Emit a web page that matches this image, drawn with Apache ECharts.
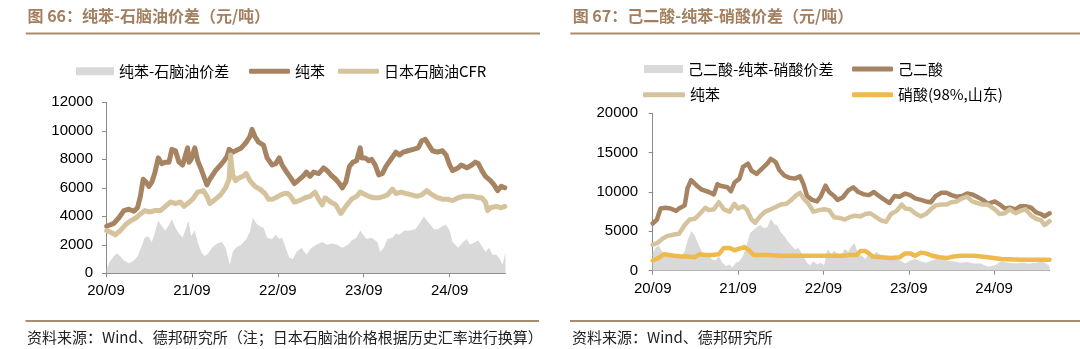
<!DOCTYPE html>
<html>
<head>
<meta charset="utf-8">
<script src="https://cdn.jsdelivr.net/npm/echarts@6/dist/echarts.min.js"></script>
<style>
html,body{margin:0;padding:0;background:#fff;}
#chart{width:1080px;height:349px;}
</style>
</head>
<body>
<div id="chart"></div>
<script>
// ---- x positions are months since 2020-09 ----
const xTickMonths = [0, 12, 24, 36, 48];
const xTickLabels = ['20/09', '21/09', '22/09', '23/09', '24/09'];
const leftYTicks = [0, 2000, 4000, 6000, 8000, 10000, 12000];
const rightYTicks = [0, 5000, 10000, 15000, 20000];

// Left chart: 纯苯-石脑油价差
const leftSpreadM = [0.1,0.5,1.1,1.5,2.0,2.5,3.2,3.9,4.4,4.9,5.4,5.9,6.4,6.8,7.3,7.8,8.3,8.8,9.2,9.7,10.2,10.7,11.2,11.5,11.9,12.4,12.8,13.3,13.8,14.3,14.8,15.5,16.2,16.7,17.3,17.7,18.1,18.9,19.6,20.1,20.5,21.0,21.5,22.0,22.5,23.2,23.7,24.2,24.6,25.1,25.6,26.1,26.6,27.3,28.0,28.7,29.4,30.2,30.9,31.6,32.3,33.0,33.8,34.3,35.0,35.5,35.9,36.4,37.1,37.9,38.3,38.8,39.3,40.0,40.5,41.0,41.7,42.4,43.2,43.9,44.4,44.8,45.3,45.8,46.3,47.0,47.5,48.0,48.4,49.2,49.9,50.4,50.8,51.6,52.0,52.5,53.0,53.5,54.0,54.5,54.9,55.4,55.8];
const leftSpreadV = [300,800,1200,1400,1200,900,700,900,1200,1800,2500,2600,2200,2800,3700,3300,3000,3400,3800,3200,2800,2500,3200,3700,2600,3000,2200,1500,1200,1400,1800,2100,2200,1800,600,1500,1800,2000,2400,2900,3900,3500,3300,3200,2500,2400,2700,2400,2500,1800,1100,1000,1500,1800,1300,1800,2000,2200,2000,2100,2000,1800,2000,2300,2500,3000,2700,2400,2500,2200,1500,1800,2400,2500,2800,2700,3000,3000,3100,3600,4000,3700,3400,3100,3100,3300,3400,3000,2200,1800,2200,2400,2000,2200,2300,1900,1500,1800,1300,1300,1100,600,1500];

const leftBenzeneM = [0.1,1.1,1.8,2.5,3.2,3.9,4.4,4.8,5.2,5.6,6.0,6.4,6.8,7.3,7.8,8.3,8.8,9.2,9.7,10.2,10.7,11.4,11.6,11.9,12.4,12.8,13.3,13.8,14.1,14.5,15.3,16.0,16.5,16.9,17.2,17.7,18.1,18.9,19.6,20.1,20.4,20.8,21.3,22.0,22.5,23.2,23.7,24.2,24.6,25.1,25.8,26.3,26.8,27.5,28.0,28.5,29.0,29.7,30.4,30.9,31.4,32.1,32.6,33.0,33.5,34.0,34.5,35.0,35.5,35.7,36.2,36.7,37.1,37.6,38.1,38.6,39.1,39.8,40.5,41.0,41.5,42.2,42.9,43.6,44.1,44.6,45.1,45.6,46.3,47.0,47.5,48.0,48.4,49.2,49.6,50.4,51.1,51.6,52.0,52.5,53.0,53.7,54.2,54.7,55.2,55.7];
const leftBenzeneV = [3300,3500,3900,4400,4500,4350,4600,5400,6600,6400,6100,6400,7000,8100,7700,7800,7800,8700,8600,7800,7600,8800,7800,8000,8800,7900,7300,6600,6200,6600,7200,7600,7900,8200,8700,8500,8600,8800,9200,9600,10100,9600,9200,9000,8100,7600,7700,8100,7600,7200,6700,6300,6500,6800,7100,6800,7100,7000,7400,7200,6900,6600,6300,6000,6400,7500,7800,7900,8800,8100,8100,7900,8000,7600,6900,7000,7500,8000,8500,8300,8500,8600,8700,8800,9300,9400,9000,8600,8500,8600,8300,7600,7200,7400,7600,7400,7600,7800,7700,7200,6800,6500,6200,5800,6100,6000];

const leftNaphthaM = [0.1,0.6,1.3,2.0,2.7,3.5,4.2,4.9,5.4,6.1,6.8,7.6,8.3,9.0,9.7,10.4,10.9,11.4,12.1,12.8,13.6,14.1,14.5,15.3,16.0,16.7,17.2,17.4,17.7,18.1,18.6,19.1,19.6,20.1,20.8,21.5,22.2,22.7,23.2,23.7,24.4,24.9,25.4,25.8,26.3,27.0,27.8,28.5,29.2,29.7,30.2,30.6,31.4,32.1,32.8,33.5,34.3,35.0,35.5,35.9,36.7,37.4,38.1,38.8,39.3,40.0,40.5,41.2,41.9,42.7,43.4,44.1,44.8,45.6,46.3,47.0,47.7,48.4,49.2,49.9,50.6,51.3,52.0,52.5,53.0,53.3,53.7,54.5,55.2,55.7];
const leftNaphthaV = [3000,2900,2700,3000,3400,3700,3900,4200,4400,4300,4400,4400,4700,5000,4900,5000,4700,4900,5200,5700,5800,5400,4900,5200,5500,6000,6600,8300,6900,6500,6700,6800,7000,6500,6100,5900,5600,5200,5200,5300,5500,5600,5600,5400,5000,5100,5300,5400,5700,5200,4800,5300,5000,4800,4200,4700,5200,5400,5700,5600,5400,5300,5300,5400,5500,5900,5600,5700,5600,5500,5400,5500,5800,5500,5300,5200,5200,5100,5300,5400,5400,5400,5300,5300,5000,4400,4600,4700,4600,4700];

// Right chart: 己二酸-纯苯-硝酸价差
const rightSpreadM = [0,0.3,0.8,1.3,1.8,2.5,3.3,4.0,4.5,4.9,5.4,5.9,6.4,6.9,7.4,7.9,8.3,8.8,9.3,9.8,10.3,10.8,11.2,11.7,12.2,12.7,13.2,13.7,14.2,14.6,15.1,15.6,16.1,16.6,17.1,17.5,18.0,18.5,19.0,19.5,20.0,20.5,20.9,21.7,22.1,22.6,23.1,23.6,24.1,24.6,25.1,25.5,26.0,26.5,27.0,27.5,28.0,28.4,28.9,29.4,29.9,30.4,30.9,31.4,32.1,32.8,33.5,34.3,35.0,35.5,36.2,36.9,37.7,38.4,39.3,40.3,41.3,42.3,43.2,44.2,45.2,46.1,47.1,48.1,49.0,50.0,51.0,51.9,52.9,53.9,54.8,55.8];
const rightSpreadV = [2200,2800,3200,2500,2000,1800,1600,1800,2500,3800,5000,4500,3400,2400,1700,2000,1500,1300,1800,1000,600,800,400,1000,1200,1900,3200,4800,5200,5500,5800,5400,5500,6600,5900,5800,4900,4400,3700,3200,2700,2900,2300,1000,700,1200,800,1000,700,2800,2100,2500,2200,2000,2800,2400,3200,3500,2100,1900,1500,2200,1700,2400,2000,1800,1800,1500,1200,900,1300,1500,1200,1000,1300,1600,1300,1200,1000,1100,900,900,500,700,1200,1000,900,1000,900,1000,1200,600];

const rightAdipicM = [0,0.6,1.1,1.8,2.5,3.3,3.7,4.5,4.9,5.4,6.2,6.9,7.9,8.6,9.1,9.5,10.5,11.0,11.5,12.2,12.7,13.4,13.9,14.6,15.4,16.1,16.6,17.3,17.8,18.5,19.2,20.0,20.7,21.2,21.7,22.4,23.1,23.6,24.3,24.8,25.5,26.0,26.7,27.5,28.2,28.9,29.7,30.4,31.1,31.8,32.6,33.3,34.0,34.7,35.5,36.2,36.9,37.7,38.4,39.1,39.8,40.6,41.3,42.0,42.7,43.5,44.2,44.9,45.6,46.4,47.1,48.1,48.8,49.5,50.2,51.0,51.7,52.4,53.2,53.9,54.6,55.1,55.8];
const rightAdipicV = [6000,6500,7900,8000,7900,7600,7900,8300,10500,11500,10800,10300,10000,9700,11000,10800,10600,10100,11200,11700,13200,13600,12700,12300,13000,13600,14200,13800,12800,12100,11800,11700,12000,11000,9500,9000,8800,9400,10800,10000,9500,9000,9300,10200,10600,10000,9700,9600,10000,9500,9000,8600,9500,9400,9800,9600,9200,9000,8800,8700,9500,9900,9900,9600,9400,9500,9800,9700,9400,9000,8500,8800,8400,7900,8000,7800,8200,8200,8000,7400,7200,6900,7300];

const rightBenzeneM = [0,0.6,1.3,2.0,3.0,3.7,4.5,5.2,5.9,6.6,7.4,7.9,8.6,9.3,10.0,10.8,11.5,12.0,12.7,13.2,13.9,14.4,15.1,15.8,16.6,17.3,18.0,18.8,19.5,20.2,20.7,21.2,21.9,22.6,23.4,24.1,24.8,25.5,26.3,27.0,27.7,28.4,29.2,29.9,30.6,31.4,32.1,32.8,33.5,34.3,35.0,35.5,36.2,36.9,37.7,38.4,39.1,39.8,40.6,41.3,42.0,42.7,43.5,44.2,44.9,45.6,46.4,47.1,48.1,48.8,49.5,50.2,51.0,51.7,52.4,53.2,53.9,54.6,55.1,55.8];
const rightBenzeneV = [3300,3500,4000,4400,4600,4700,5800,6500,6600,7200,8000,7700,7800,8700,7800,7500,8500,7900,8200,7800,6500,6100,6900,7500,7800,8100,8400,8500,9000,9600,9900,9200,8500,7500,7700,7800,7700,6800,6700,6500,6800,7000,6900,7200,7300,6800,6400,6200,7200,7600,8400,7900,7800,7300,6900,7200,7800,8300,8400,8400,8700,8800,9200,9400,8800,8600,8400,8400,7800,7200,7300,7800,7300,7600,7800,7000,6600,6400,5800,6300];

const rightNitricM = [0,0.8,1.6,2.3,3.0,4.0,4.9,5.9,6.6,7.4,8.3,9.3,10.0,10.8,11.5,12.2,12.9,13.4,14.2,15.1,16.1,18.0,20.5,22.9,25.3,26.7,27.7,28.7,29.2,29.9,30.4,30.9,32.1,33.5,34.7,35.5,36.2,36.9,37.7,38.4,39.3,40.3,41.3,42.3,43.2,45.2,47.1,49.0,51.9,54.4,55.8];
const rightNitricV = [1300,1600,2100,2000,1900,1800,1800,1700,2100,2000,2000,2100,2900,2900,2600,2800,3000,2700,2000,2000,2000,1900,1900,1900,1900,1900,2000,2000,2500,2500,2200,1800,1700,1600,1700,2200,2200,1900,2300,2200,1900,1700,1600,1800,1900,1900,1700,1500,1400,1400,1400];

// ---- styles ----
const BROWN = '#A68462';
const LIGHT = '#D5C39E';
const GRAY = '#D9D9D9';
const YELLOW = '#EEBA4E';
const TITLE = '#A27F5F';
const RULE = '#A98D70';
const AXIS = '#8A8A8A';
const NUMFONT = '"Liberation Sans", Arial, sans-serif';
const CJKFONT = '"Noto Sans CJK SC", sans-serif';
const X_MAX = 55.8;

function zip(a, b) { return a.map((v, i) => [v, b[i]]); }

function xAxisCfg(gi, margin) {
  return {
    gridIndex: gi, type: 'value', min: 0, max: X_MAX, interval: 12,
    axisLine: { show: true, onZero: false, lineStyle: { color: AXIS, width: 1 } },
    axisTick: { show: true, length: 4, customValues: xTickMonths, lineStyle: { color: AXIS } },
    axisLabel: {
      customValues: xTickMonths, margin: margin, fontSize: 15, color: '#000', fontFamily: NUMFONT,
      formatter: v => { const i = xTickMonths.indexOf(v); return i >= 0 ? xTickLabels[i] : ''; }
    },
    splitLine: { show: false }
  };
}
function yAxisCfg(gi, ticks, margin) {
  return {
    gridIndex: gi, type: 'value', min: ticks[0], max: ticks[ticks.length - 1], interval: ticks[1] - ticks[0],
    axisLine: { show: true, lineStyle: { color: AXIS, width: 1 } },
    axisTick: { show: true, length: 4, lineStyle: { color: AXIS } },
    axisLabel: { margin: margin, fontSize: 15, color: '#000', fontFamily: NUMFONT, formatter: v => String(v) },
    splitLine: { show: false }
  };
}
function areaSeries(name, gi, data) {
  return { type: 'line', name, xAxisIndex: gi, yAxisIndex: gi, data, symbol: 'none', showSymbol: false,
    lineStyle: { width: 0, color: GRAY }, itemStyle: { color: GRAY },
    areaStyle: { color: GRAY, opacity: 1 }, z: 1, silent: true };
}
function lineSeries(name, gi, data, color, width, z) {
  return { type: 'line', name, xAxisIndex: gi, yAxisIndex: gi, data, symbol: 'none', showSymbol: false,
    lineStyle: { width, color, join: 'round', cap: 'round' }, itemStyle: { color }, z, silent: true };
}
function legendCfg(name, icon, left, cy, w, h, label) {
  const l = {
    data: [{ name, icon }], left, top: cy - 8, orient: 'horizontal', padding: 0,
    itemWidth: w, itemHeight: h, selectedMode: false,
    textStyle: { fontSize: 15, color: '#000', fontFamily: CJKFONT, lineHeight: 16 }
  };
  if (label) l.formatter = () => label;
  return l;
}
function textEl(x, y, text, size, weight, color) {
  return { type: 'text', x, y, silent: true,
    style: { text, fontSize: size, fontWeight: weight, fill: color, fontFamily: CJKFONT, verticalAlign: 'middle', align: 'left' } };
}
function ruleEl(x1, x2, y, w) {
  return { type: 'line', silent: true, shape: { x1, y1: y, x2, y2: y }, style: { stroke: RULE, lineWidth: w } };
}

const chart = echarts.init(document.getElementById('chart'), null, { renderer: 'canvas' });
chart.setOption({
  animation: false,
  backgroundColor: '#fff',
  grid: [
    { left: 106, top: 102.3, width: 399.5, height: 171 },
    { left: 652.7, top: 113.3, width: 396.9, height: 157.4 }
  ],
  xAxis: [xAxisCfg(0, 10), xAxisCfg(1, 11)],
  yAxis: [yAxisCfg(0, leftYTicks, 13), yAxisCfg(1, rightYTicks, 14.5)],
  legend: [
    legendCfg('纯苯-石脑油价差', 'rect', 76, 71.3, 38, 8),
    legendCfg('纯苯', 'roundRect', 249, 71.3, 41, 5),
    legendCfg('日本石脑油CFR', 'roundRect', 338, 71.3, 41, 5),
    legendCfg('己二酸-纯苯-硝酸价差', 'rect', 644, 68.9, 39, 8),
    legendCfg('己二酸', 'roundRect', 852, 68.9, 41, 5),
    legendCfg('纯苯(右图)', 'roundRect', 643, 94.7, 42, 5, '纯苯'),
    legendCfg('硝酸(98%,山东)', 'roundRect', 852, 94.7, 41, 5)
  ],
  series: [
    areaSeries('纯苯-石脑油价差', 0, zip(leftSpreadM, leftSpreadV)),
    lineSeries('纯苯', 0, zip(leftBenzeneM, leftBenzeneV), BROWN, 5, 3),
    lineSeries('日本石脑油CFR', 0, zip(leftNaphthaM, leftNaphthaV), LIGHT, 5, 4),
    areaSeries('己二酸-纯苯-硝酸价差', 1, zip(rightSpreadM, rightSpreadV)),
    lineSeries('己二酸', 1, zip(rightAdipicM, rightAdipicV), BROWN, 4.5, 3),
    lineSeries('纯苯(右图)', 1, zip(rightBenzeneM, rightBenzeneV), LIGHT, 4.5, 4),
    lineSeries('硝酸(98%,山东)', 1, zip(rightNitricM, rightNitricV), YELLOW, 4.5, 5)
  ],
  graphic: [
    textEl(27.5, 15.5, '图 66：纯苯-石脑油价差（元/吨）', 16, 'bold', TITLE),
    textEl(572.7, 15.5, '图 67：己二酸-纯苯-硝酸价差（元/吨）', 16, 'bold', TITLE),
    ruleEl(25.8, 540, 33.4, 2),
    ruleEl(570.3, 1080, 33.4, 2),
    ruleEl(25.5, 539, 321, 2),
    ruleEl(570, 1080, 321, 2),
    textEl(27, 337.5, '资料来源：Wind、德邦研究所（注；日本石脑油价格根据历史汇率进行换算）', 15, 'normal', '#222'),
    textEl(572, 337.5, '资料来源：Wind、德邦研究所', 15, 'normal', '#222')
  ]
});
</script>
</body>
</html>
